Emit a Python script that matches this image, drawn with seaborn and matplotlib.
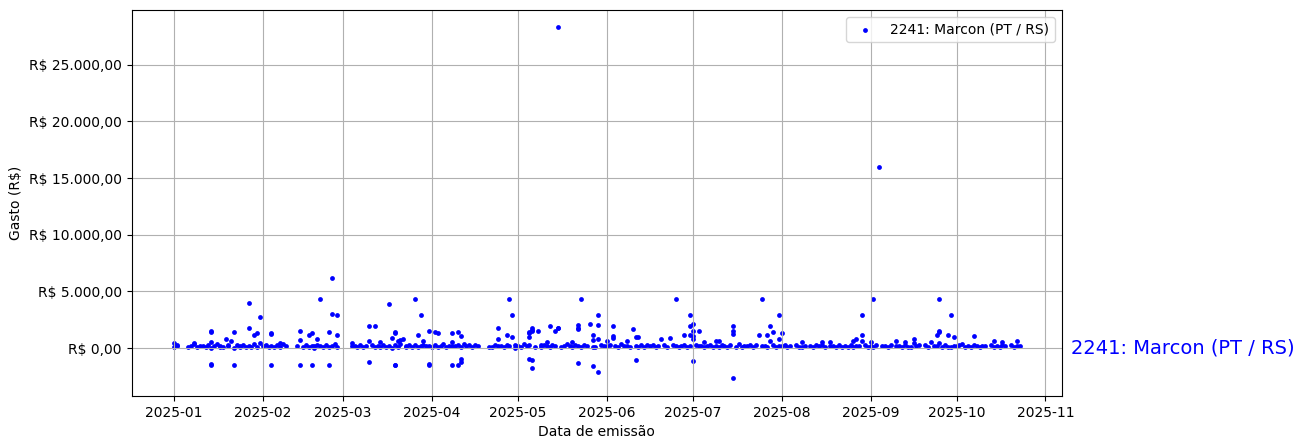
import pandas as pd
import numpy as np
import matplotlib
matplotlib.use("Agg")
import matplotlib.pyplot as plt
import matplotlib.dates as mdates
from matplotlib.ticker import FuncFormatter
import seaborn as sns

deputado = '2241: Marcon (PT / RS)'

# valores, por mes (dia do mes, gasto em R$)
jan_dia = [1, 1, 2, 2, 6, 7, 8, 8, 9, 10, 11, 12, 13, 14, 14, 14, 14, 14, 14, 15, 16, 17, 17, 18,
           19, 20, 20, 21, 22, 22, 22, 23, 24, 24, 25, 26, 27, 27, 27, 28, 29, 29, 30, 30, 31, 31]
jan_valor = [450, 120, 180, 250, 80, 190, 470, 310, 60, 220, 150, 90, 280, 1400, 1500, 530, -1500,
             -1450, 40, 170, 330, 110, 200, 70, 770, 260, 140, 620, 1390, -1540, 30, 240, 180, 95,
             300, 55, 3970, 1750, 210, 130, 1150, 350, 1330, 85, 2730, 470]

fev_dia = [1, 2, 3, 4, 4, 4, 4, 5, 6, 7, 7, 8, 9, 13, 14, 14, 14, 15, 16, 17, 17, 18, 18, 18,
           19, 19, 20, 20, 21, 21, 22, 23, 24, 24, 24, 25, 25, 25, 26, 27, 27, 27]
fev_valor = [160, 230, 45, 1360, 1230, -1510, 190, 120, 250, 470, 80, 310, 140, 200, 1480, -1510,
             680, 90, 270, 1120, 60, 1360, -1510, 180, 220, 40, 770, 300, 4320, 150, 110, 260,
             1420, -1540, 70, 6190, 2990, 200, 340, 2900, 1130, 130]

mar_dia = [4, 4, 5, 6, 7, 8, 9, 10, 10, 10, 11, 12, 12, 13, 14, 14, 15, 16, 17, 17, 18, 18, 19,
           19, 19, 19, 19, 20, 20, 21, 21, 22, 23, 23, 24, 25, 26, 26, 27, 27, 28, 28, 29, 29, 30,
           31, 31, 31, 31]
mar_valor = [470, 150, 220, 80, 300, 130, 190, 1920, -1270, 620, 250, 1920, 60, 170, 530, 110, 280,
             90, 3880, 200, 920, 40, 1420, 1300, -1540, -1480, 240, 620, 130, 680, 320, 770, 60,
             190, 250, 110, 4320, 230, 1130, 80, 2900, 170, 620, 260, 140, 1480, -1420, -1540, 210]

abr_dia = [1, 2, 2, 3, 3, 4, 5, 6, 7, 8, 8, 8, 8, 9, 10, 10, 10, 11, 11, 11, 11, 12, 13, 14, 15,
           16, 17, 21, 22, 23, 24, 24, 24, 25, 26, 27, 27, 28, 28, 29, 29, 30, 30]
abr_valor = [130, 1420, 250, 1300, 90, 200, 310, 60, 180, 530, 1360, -1540, 220, 140, 1450, -1540,
             280, 1090, -1210, -1000, 100, 330, 170, 240, 50, 300, 190, 120, 60, 260, 1750, 770,
             140, 200, 80, 1130, 230, 4320, 160, 2900, 950, 40, 270]

mai_dia = [1, 2, 3, 4, 5, 5, 5, 5, 5, 6, 6, 6, 6, 6, 7, 8, 9, 9, 10, 11, 11, 12, 12, 13, 14, 14,
           15, 15, 15, 16, 17, 18, 19, 20, 20, 21, 22, 22, 22, 22, 22, 23, 23, 24, 25, 26, 27, 27,
           27, 27, 28, 29, 29, 29, 29, 30, 31]
mai_valor = [200, 80, 310, 150, 1400, 1300, -1000, 1000, 250, 1500, 1750, 1600, -1050, -1800, 120,
             1480, 60, 230, 290, 530, 150, 1920, 90, 260, 1500, 180, 1750, 1800, 28300, 70, 210,
             330, 140, 530, 50, 240, 2000, 1800, 1700, -1330, 160, 4320, 90, 280, 200, 2100, 1130,
             680, -1630, 120, 60, 2930, 2040, 770, -2130, 250, 170]

jun_dia = [1, 1, 2, 3, 3, 3, 4, 5, 6, 7, 8, 8, 9, 10, 11, 11, 11, 12, 12, 13, 14, 15, 16, 17, 18,
           19, 20, 21, 22, 23, 24, 25, 25, 26, 27, 28, 28, 29, 30, 30, 30, 30]
jun_valor = [620, 140, 260, 1950, 1050, 920, 180, 90, 310, 150, 620, 220, 60, 1660, 950, -1090,
             200, 950, 130, 270, 80, 240, 160, 300, 50, 190, 770, 230, 110, 860, 280, 4320, 140,
             70, 210, 1150, 250, 120, 2900, 1950, 1130, 180]

jul_dia = [1, 1, 1, 1, 1, 2, 3, 3, 4, 5, 5, 6, 7, 8, 9, 9, 10, 10, 11, 12, 13, 14, 15, 15, 15, 15,
           16, 17, 18, 19, 20, 21, 22, 23, 24, 25, 25, 26, 27, 27, 28, 28, 29, 29, 30, 31, 31, 31]
jul_valor = [2130, 1480, 1090, 770, -1150, 300, 1480, 150, 220, 530, 90, 180, 260, 60, 620, 200,
             620, 130, 280, 170, 90, 240, 1950, 1480, 1270, -2690, 120, 310, 60, 200, 150, 270, 80,
             230, 1130, 4320, 140, 190, 1130, 60, 1950, 620, 1420, 250, 110, 2900, 770, 200]

ago_dia = [1, 1, 2, 3, 4, 6, 7, 8, 8, 9, 11, 12, 13, 14, 15, 15, 16, 18, 18, 19, 20, 21, 22, 23,
           24, 25, 26, 26, 27, 27, 28, 29, 29, 29, 30, 31]
ago_valor = [1300, 150, 230, 80, 190, 270, 120, 530, 60, 200, 160, 90, 250, 140, 530, 300, 70, 530,
             180, 220, 100, 260, 50, 190, 130, 280, 620, 90, 770, 200, 160, 2900, 1130, 620, 240, 110]

set_dia = [1, 1, 2, 2, 4, 3, 5, 6, 7, 8, 10, 10, 11, 12, 13, 13, 14, 15, 16, 16, 17, 18, 20, 21,
           22, 23, 24, 24, 25, 25, 25, 25, 26, 27, 28, 28, 29, 29, 30, 30]
set_valor = [530, 180, 4320, 90, 16000, 260, 140, 220, 70, 300, 620, 150, 200, 90, 530, 240, 120,
             60, 770, 470, 190, 250, 270, 80, 530, 160, 1130, 220, 4320, 1510, 1420, 470, 100, 240,
             1130, 130, 2900, 60, 950, 200]

out_dia = [1, 2, 3, 4, 5, 6, 7, 7, 8, 9, 10, 11, 13, 14, 14, 15, 16, 17, 17, 18, 20, 21, 22, 22, 23]
out_valor = [150, 240, 330, 90, 200, 120, 1040, 260, 180, 70, 220, 140, 250, 620, 100, 190, 60,
             530, 230, 150, 280, 90, 620, 170, 180]

meses = [(1, jan_dia, jan_valor), (2, fev_dia, fev_valor), (3, mar_dia, mar_valor),
         (4, abr_dia, abr_valor), (5, mai_dia, mai_valor), (6, jun_dia, jun_valor),
         (7, jul_dia, jul_valor), (8, ago_dia, ago_valor), (9, set_dia, set_valor),
         (10, out_dia, out_valor)]

linhas = []
for mes, dias, valores in meses:
    for d, v in zip(dias, valores):
        linhas.append({'data': pd.Timestamp(2025, mes, d), 'gasto': v})
df = pd.DataFrame(linhas)


def reais(x, pos):
    s = f'{x:,.2f}'.replace(',', 'X').replace('.', ',').replace('X', '.')
    return f'R$ {s}'


fig, ax = plt.subplots(figsize=(13.04, 4.48), dpi=100)
fig.subplots_adjust(left=0.101, right=0.8144, bottom=0.116, top=0.978)

sns.scatterplot(data=df, x='data', y='gasto', color='blue', s=12, linewidth=0,
                label=deputado, ax=ax)

ax.text(1.01, 0, deputado, transform=ax.get_yaxis_transform(), color='blue',
        fontsize=14, va='center', ha='left')

ax.yaxis.set_major_formatter(FuncFormatter(reais))
ax.xaxis.set_major_locator(mdates.MonthLocator())
ax.xaxis.set_major_formatter(mdates.DateFormatter('%Y-%m'))
ax.set_xlabel('Data de emissão')
ax.set_ylabel('Gasto (R$)')
ax.grid(True)
ax.legend(loc='upper right')

fig.savefig('out.png', dpi=100)
